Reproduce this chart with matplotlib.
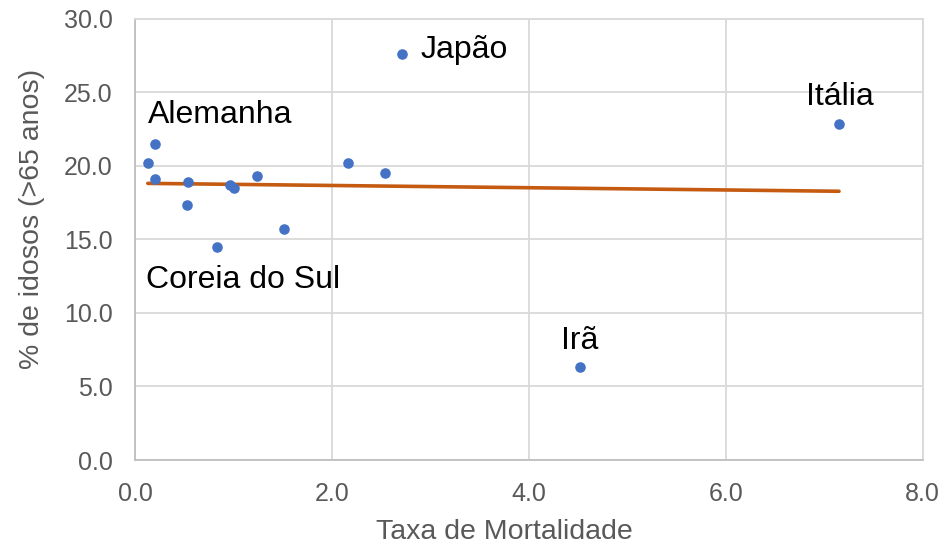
import numpy as np
import matplotlib
matplotlib.use("Agg")
import matplotlib.pyplot as plt

plt.rcParams['font.family'] = ['Liberation Sans', 'DejaVu Sans']

# taxa de mortalidade x % de idosos, um ponto por pais
taxa = [0.20, 0.13, 0.20, 0.54, 0.53, 0.96, 1.01, 1.24, 0.83, 1.51,
        2.16, 2.54, 2.71, 7.15, 4.52]
idosos = [21.5, 20.2, 19.1, 18.9, 17.3, 18.7, 18.5, 19.3, 14.5, 15.7,
          20.2, 19.5, 27.6, 22.8, 6.3]

# rotulos que aparecem no grafico (texto, x, y)
rotulos = ["Japão", "Itália", "Irã", "Alemanha", "Coreia do Sul"]
rot_x = [2.90, 7.16, 4.52, 0.13, 0.11]
rot_y = [27.85, 24.65, 8.1, 23.45, 12.2]
rot_ha = ['left', 'center', 'center', 'left', 'left']

xticks = [0, 2, 4, 6, 8]
yticks = [0, 5, 10, 15, 20, 25, 30]

fig = plt.figure(figsize=(9.44, 5.43), dpi=100)
ax = fig.add_axes([135/944, 1 - 460/543, (922.7 - 135)/944, (460 - 18.5)/543])

ax.scatter(taxa, idosos, s=58, color='#4472C4', zorder=3, linewidths=0)

# linha de tendencia linear
a, b = np.polyfit(taxa, idosos, 1)
xl = np.array([min(taxa), max(taxa)])
ax.plot(xl, a*xl + b, color='#C55A11', lw=2.6, solid_capstyle='round', zorder=2)

for t, x, y, h in zip(rotulos, rot_x, rot_y, rot_ha):
    ax.text(x, y, t, fontsize=23, ha=h, va='center', color='black', zorder=4)

ax.set_xlim(0, 8)
ax.set_ylim(0, 30)
ax.set_xticks(xticks)
ax.set_yticks(yticks)
ax.set_xticklabels(["%.1f" % v for v in xticks])
ax.set_yticklabels(["%.1f" % v for v in yticks])
ax.tick_params(length=0, labelsize=18, labelcolor='#595959', pad=16)
ax.grid(True, color='#d9d9d9', lw=1.3)
ax.set_axisbelow(True)
for s in ax.spines.values():
    s.set_color('#d9d9d9')
    s.set_linewidth(1.3)
ax.spines['left'].set_color('#bfbfbf')
ax.spines['bottom'].set_color('#bfbfbf')

ax.set_xlabel("Taxa de Mortalidade", fontsize=20.5, color='#595959')
ax.set_ylabel("% de idosos (>65 anos)", fontsize=20.5, color='#595959')
ax.xaxis.set_label_coords(0.469, -0.133)
ax.yaxis.set_label_coords(-0.114, 0.546)

fig.savefig("out.png", dpi=100)
